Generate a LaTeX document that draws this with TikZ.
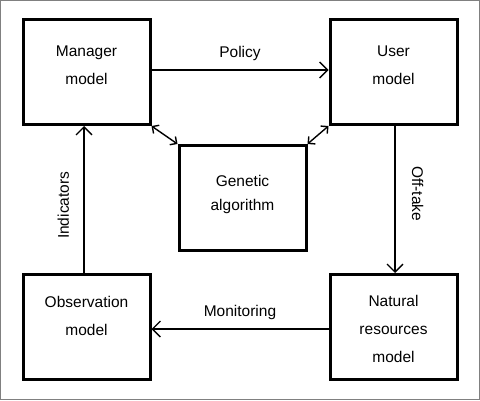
\documentclass[tikz,border=0pt]{standalone}
\usepackage{fontspec}
\setmainfont{Liberation Sans}
\usetikzlibrary{positioning,arrows.meta}

\begin{document}
\begin{tikzpicture}[x=1pt,y=1pt]
    \tikzset{
        boxstyle/.style={draw, line width=3pt, minimum width=127pt, minimum height=105pt, inner sep=0pt},
        txtstyle/.style={align=center, font=\fontsize{15.5}{28}\selectfont},
        linkstyle/.style={line width=1.4pt, -{Straight Barb[length=8pt,width=16pt,line width=1.4pt]}},
        bothstyle/.style={line width=1.4pt, {Straight Barb[length=5pt,width=10pt,line width=1.4pt]}-{Straight Barb[length=5pt,width=10pt,line width=1.4pt]}}
    }

    % frame
    \draw[gray, line width=1pt] (0.5,0.5) rectangle (479.5,399.5);
    \useasboundingbox (0,0) rectangle (480,400);

    % boxes
    \node[boxstyle] (manager) at (86.5,328) {};
    \node[boxstyle] (user) at (393.5,328) {};
    \node[boxstyle] (genetic) at (242.5,202) {};
    \node[boxstyle] (observation) at (86.5,73) {};
    \node[boxstyle] (natural) at (393.5,73) {};

    % box texts
    \node[txtstyle] (managertxt) at ([yshift=-47]manager.north) {Manager\\model};
    \node[txtstyle] (usertxt) at ([yshift=-47]user.north) {User\\model};
    \node[txtstyle, font=\fontsize{15.5}{24}\selectfont] (genetictxt) at ([yshift=-50]genetic.north) {Genetic\\algorithm};
    \node[txtstyle] (observationtxt) at ([yshift=-42.5]observation.north) {Observation\\model};
    \node[txtstyle] (naturaltxt) at ([yshift=-56]natural.north) {Natural\\resources\\model};

    % links
    \draw[linkstyle] (manager.east |- 0,330) -- (user.west |- 0,330)
        node[midway, above=5pt, txtstyle] (policy) {Policy};
    \draw[linkstyle] (observation.north -| 84,0) -- (manager.south -| 84,0)
        node[pos=0.46, left=11pt, rotate=90, anchor=south, txtstyle] (indicators) {Indicators};
    \draw[linkstyle] (user.south -| 395,0) -- (natural.north -| 395,0)
        node[pos=0.46, right=13pt, rotate=-90, anchor=south, txtstyle] (offtake) {Off-take};
    \draw[linkstyle] (natural.west |- 0,71) -- (observation.east |- 0,71)
        node[midway, above=5pt, txtstyle] (monitoring) {Monitoring};

    \draw[bothstyle] (manager.south east) -- (genetic.north west);
    \draw[bothstyle] (user.south west) -- (genetic.north east);

\end{tikzpicture}
\end{document}
